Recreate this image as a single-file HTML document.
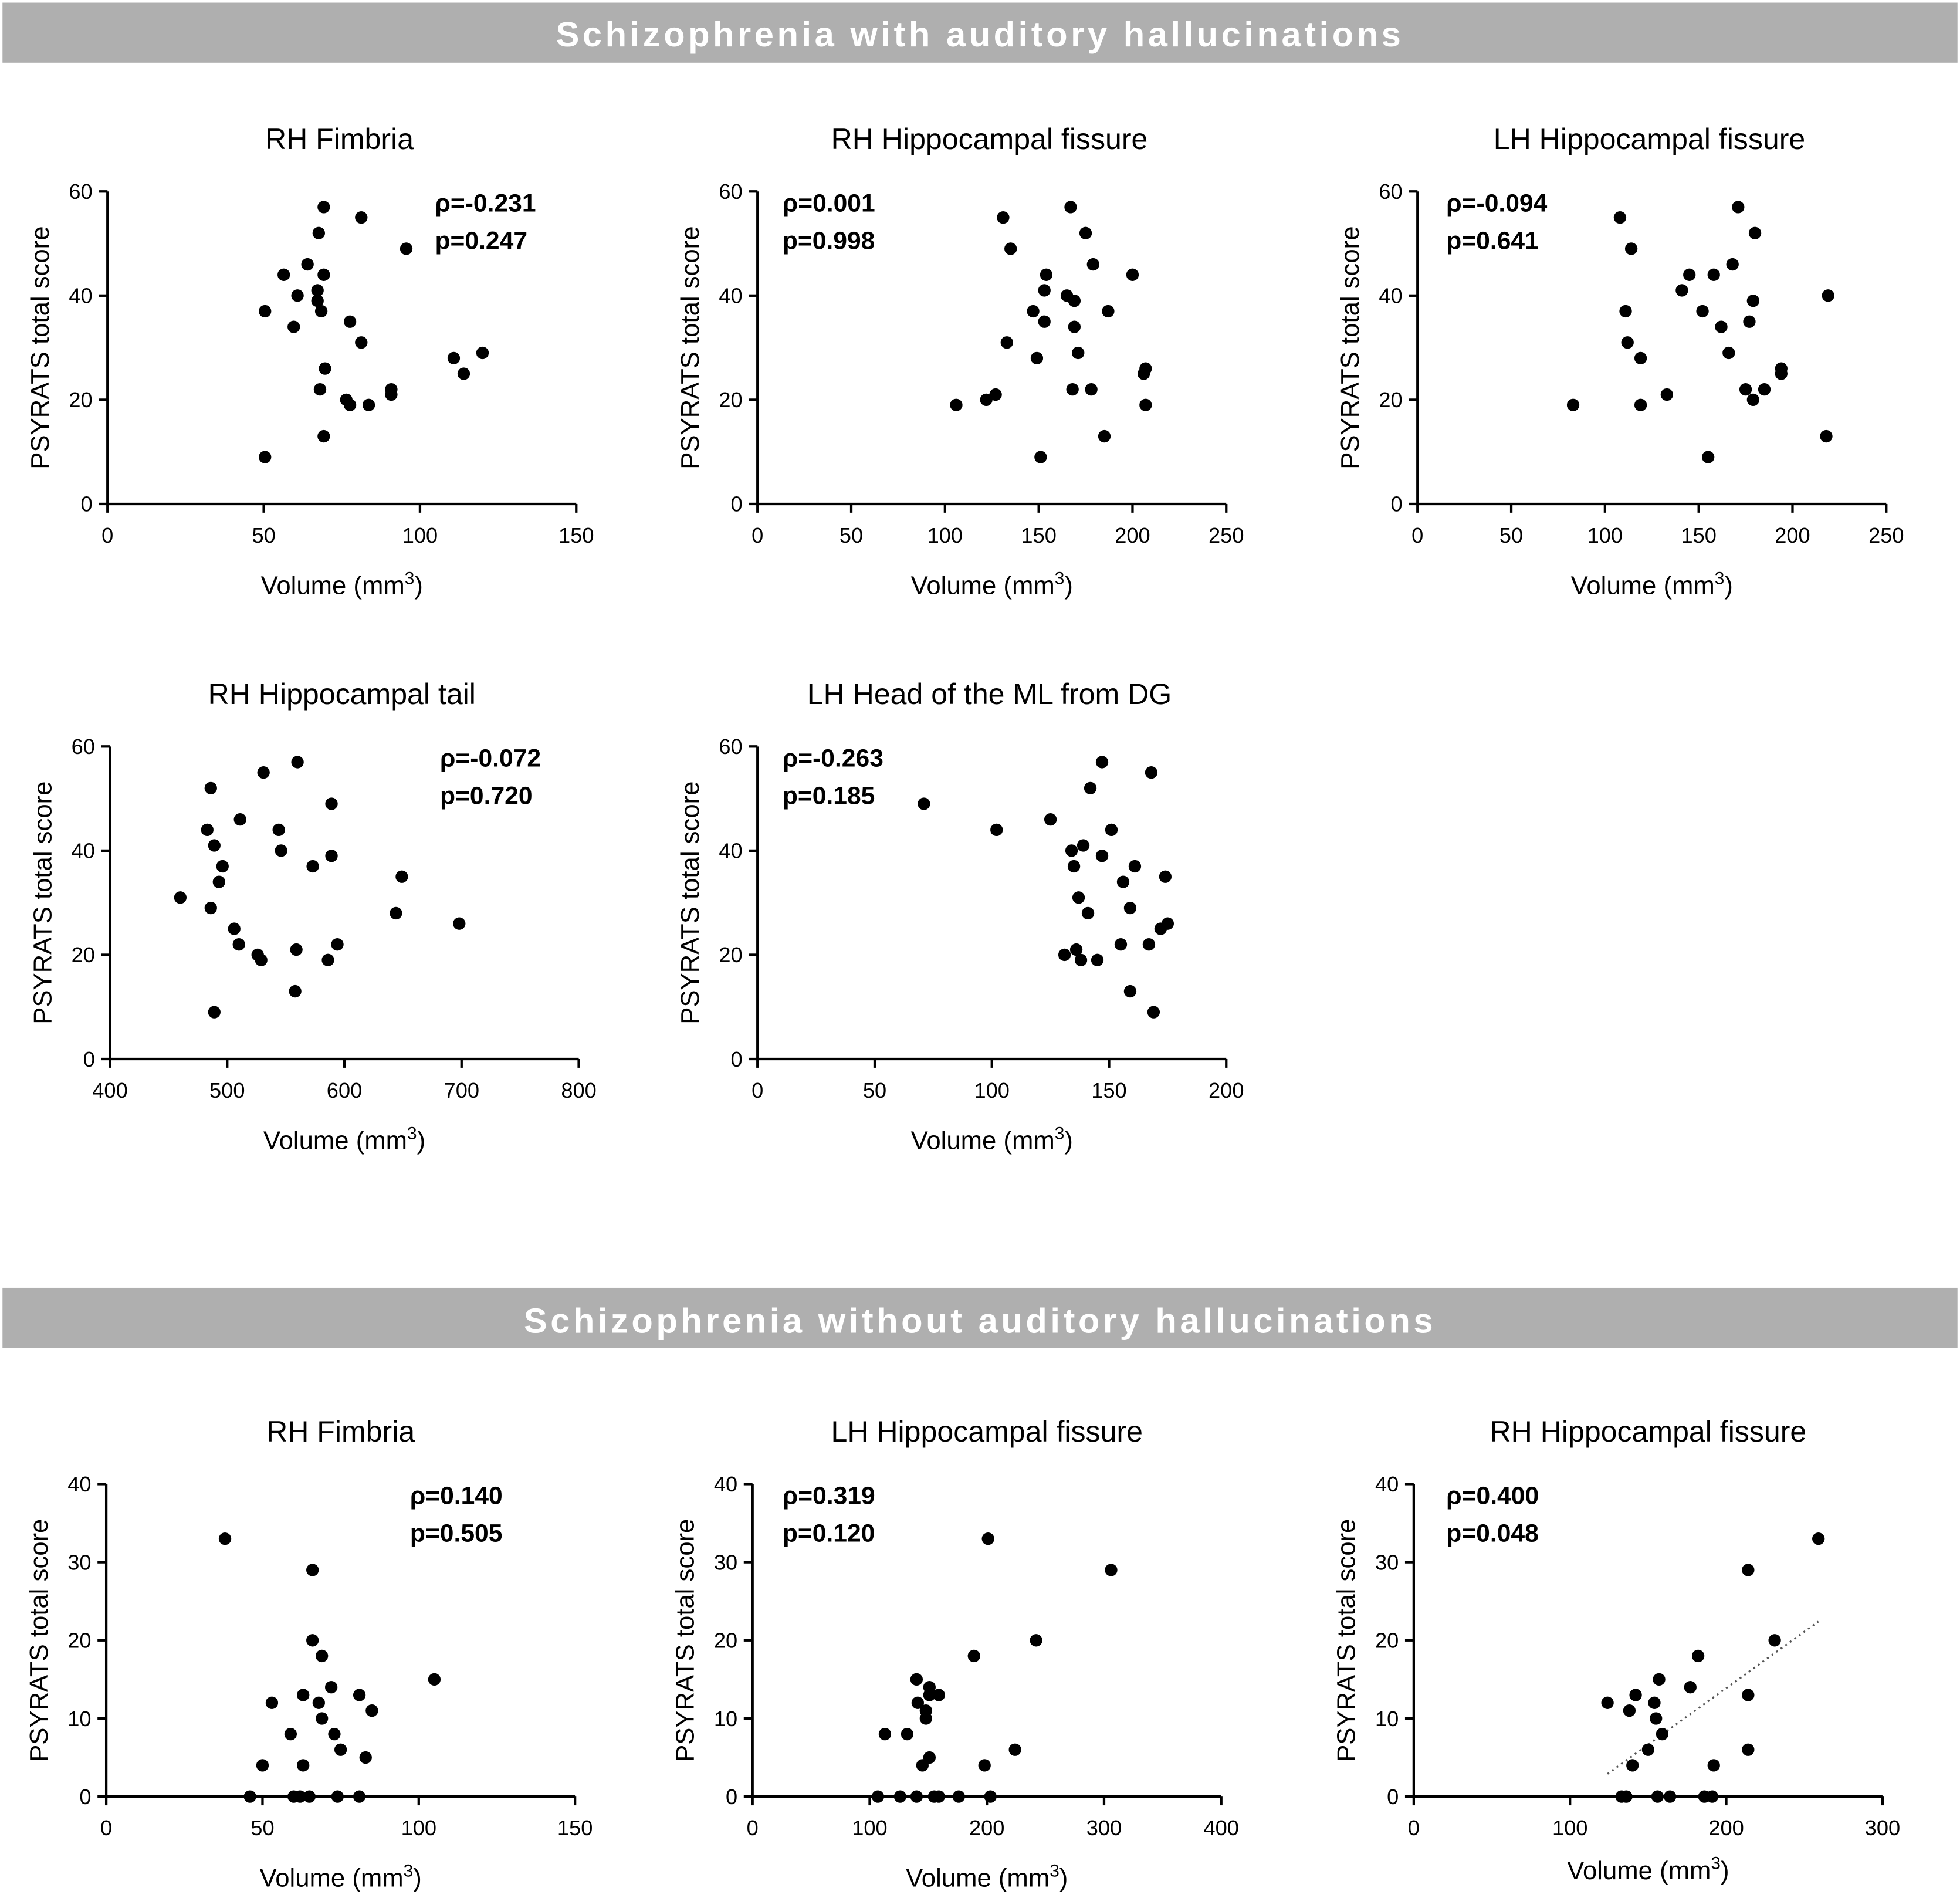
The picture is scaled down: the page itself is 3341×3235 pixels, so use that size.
<!DOCTYPE html>
<html><head><meta charset="utf-8"><style>
html,body{margin:0;padding:0;background:#fff}
svg{display:block}
text{font-family:"Liberation Sans",sans-serif;fill:#000}
</style></head><body>
<svg id="c" width="3341" height="3235" viewBox="0 0 1568 1518" xmlns="http://www.w3.org/2000/svg">
<rect x="0" y="0" width="1568" height="1518" fill="#fff"/>
<rect x="2" y="2" width="1564" height="48" fill="#afafaf"/>
<text x="784" y="37" text-anchor="middle" font-size="28" font-weight="bold" letter-spacing="2.6" style="fill:#fff">Schizophrenia with auditory hallucinations</text>
<rect x="2" y="1030" width="1564" height="48" fill="#afafaf"/>
<text x="784" y="1066" text-anchor="middle" font-size="28" font-weight="bold" letter-spacing="2.6" style="fill:#fff">Schizophrenia without auditory hallucinations</text>
</svg>
<script>
const xs1=[50.4,50.4,56.4,59.6,60.8,64,67.6,69.2,67.2,67.2,68.4,69.2,69.6,68,69.2,77.6,81.2,81.2,76.4,77.6,83.6,90.8,90.8,95.6,110.8,114,120];
const ys1=[9,37,44,34,40,46,52,57,41,39,37,44,26,22,13,35,31,55,20,19,19,22,21,49,28,25,29];
const xs2=[106,122,127,131,135,133,147,149,151,153,153,154,167,165,169,169,171,168,175,178,179,187,185,200,207,206,207];
const ys2=[19,20,21,55,49,31,37,28,9,41,35,44,57,40,39,34,29,22,52,22,46,37,13,44,26,25,19];
const xs3=[83,108,114,111,112,119,119,133,141,145,152,155,158,162,166,168,171,175,177,179,179,180,185,194,194,219,218];
const ys3=[19,55,49,37,31,28,19,21,41,44,37,9,44,34,29,46,57,22,35,39,20,52,22,26,25,40,13];
const xs4=[460,483,486,489,496,493,486,489,506,510,511,526,529,531,544,546,560,559,558,573,589,589,586,594,644,649,698];
const ys4=[31,44,52,41,37,34,29,9,25,22,46,20,19,55,44,40,57,21,13,37,39,49,19,22,28,35,26];
const xs5=[71,102,125,131,134,135,136,137,138,139,141,142,145,147,147,151,155,156,159,159,161,167,168,169,172,174,175];
const ys5=[49,44,46,20,40,37,21,31,19,41,28,52,19,57,39,44,22,34,29,13,37,22,55,9,25,35,26];
const xs6=[38,46,50,53,59,60,62,63,63,65,66,66,68,69,69,72,73,75,74,81,81,83,85,105];
const ys6=[33,0,4,12,8,0,0,4,13,0,20,29,12,18,10,14,8,6,0,13,0,5,11,15];
const xs7=[107,113,126,132,140,140,141,145,148,148,151,151,151,155,159,159,176,189,198,201,203,224,242,306];
const ys7=[0,8,0,8,15,0,12,4,11,10,14,5,13,0,13,0,0,18,4,33,0,6,20,29];
const xs8=[124,133,136,138,140,142,150,154,155,157,156,159,164,177,182,186,192,191,214,214,214,231,259];
const ys8=[12,0,0,11,4,13,6,12,10,15,0,8,0,14,18,0,4,0,29,13,6,20,33];
const xt1=[0,50,100,150], xt2=[0,50,100,150,200,250], xt4=[400,500,600,700,800], xt5=[0,50,100,150,200], xt7=[0,100,200,300,400], xt8=[0,100,200,300];
const yt60=[0,20,40,60], yt40=[0,10,20,30,40];
const titles=["RH Fimbria","RH Hippocampal fissure","LH Hippocampal fissure","RH Hippocampal tail","LH Head of the ML from DG","RH Fimbria","LH Hippocampal fissure","RH Hippocampal fissure"];
const rhos=["ρ=-0.231","ρ=0.001","ρ=-0.094","ρ=-0.072","ρ=-0.263","ρ=0.140","ρ=0.319","ρ=0.400"];
const pvals=["p=0.247","p=0.998","p=0.641","p=0.720","p=0.185","p=0.505","p=0.120","p=0.048"];
const NS="http://www.w3.org/2000/svg";
const svg=document.getElementById('c');
function mk(tag,attrs,parent){const e=document.createElementNS(NS,tag);for(const k in attrs)e.setAttribute(k,attrs[k]);(parent||svg).appendChild(e);return e;}
function panel(i,L,B,xt,yt,xs,ys,sx,xlabY,fit){
  const W=375,H=250;
  const g=mk('g',{});
  
  
  const xmin=xt[0],xmax=xt[xt.length-1],ymax=yt[yt.length-1];
  const X=v=>L+(v-xmin)/(xmax-xmin)*W, Y=v=>B-v/ymax*H;
  const t=mk('text',{x:L+W/2-(i<5?2:0),y:B-H-34,'text-anchor':'middle','font-size':23.5},g);
  t.textContent=titles[i];
  
  
  const ax=mk('path',{d:`M${L},${B-H}V${B}H${L+W}`,stroke:'#000','stroke-width':2,fill:'none'},g);
  
  
  xt.forEach(v=>{mk('line',{x1:X(v),x2:X(v),y1:B,y2:B+7,stroke:'#000','stroke-width':2},g);
    const tl=mk('text',{x:X(v),y:B+31,'text-anchor':'middle','font-size':17},g);tl.textContent=v;
    
    });
  yt.forEach(v=>{mk('line',{x1:L-7,x2:L,y1:Y(v),y2:Y(v),stroke:'#000','stroke-width':2},g);
    const tl=mk('text',{x:L-12,y:Y(v)+6,'text-anchor':'end','font-size':17},g);tl.textContent=v;
    
    });
  const xl=mk('text',{x:L+W/2,y:xlabY,'text-anchor':'middle','font-size':20.5},g);
  xl.innerHTML='Volume (mm<tspan dy="-8" font-size="14">3</tspan><tspan dy="8">)</tspan>';
  
  
  const yl=mk('text',{x:0,y:0,'text-anchor':'middle','font-size':20.5,transform:`translate(${L-47},${B-H/2}) rotate(-90)`},g);
  yl.textContent='PSYRATS total score';
  
  
  if(fit){
    const n=xs.length,mx=xs.reduce((a,b)=>a+b)/n,my=ys.reduce((a,b)=>a+b)/n;
    let sxy=0,sxx=0;xs.forEach((x,k)=>{sxy+=(x-mx)*(ys[k]-my);sxx+=(x-mx)**2;});
    const b=sxy/sxx,a=my-b*mx,x0=Math.min(...xs),x1=Math.max(...xs);
    const fl=mk('line',{x1:X(x0),y1:Y(a+b*x0),x2:X(x1),y2:Y(a+b*x1),stroke:'#555','stroke-width':1.5,'stroke-dasharray':'1.5 3'},g);
    
    
  }
  xs.forEach((v,k)=>{const d=mk('circle',{cx:X(v),cy:Y(ys[k]),r:5,fill:'#000'},g);
    
    });
  const r=mk('text',{x:sx,y:B-H+16,'font-size':20,'font-weight':'bold'},g);r.textContent=rhos[i];
  
  
  const p=mk('text',{x:sx,y:B-H+46,'font-size':20,'font-weight':'bold'},g);p.textContent=pvals[i];
  
  
}
panel(0,86,403,xt1,yt60,xs1,ys1,348,475,false);
panel(1,606,403,xt2,yt60,xs2,ys2,626,475,false);
panel(2,1134,403,xt2,yt60,xs3,ys3,1157,475,false);
panel(3,88,847,xt4,yt60,xs4,ys4,352,919,false);
panel(4,606,847,xt5,yt60,xs5,ys5,626,919,false);
panel(5,85,1437,xt1,yt40,xs6,ys6,328,1509,false);
panel(6,602,1437,xt7,yt40,xs7,ys7,626,1509,false);
panel(7,1131,1437,xt8,yt40,xs8,ys8,1157,1503,true);
</script>
</body></html>
